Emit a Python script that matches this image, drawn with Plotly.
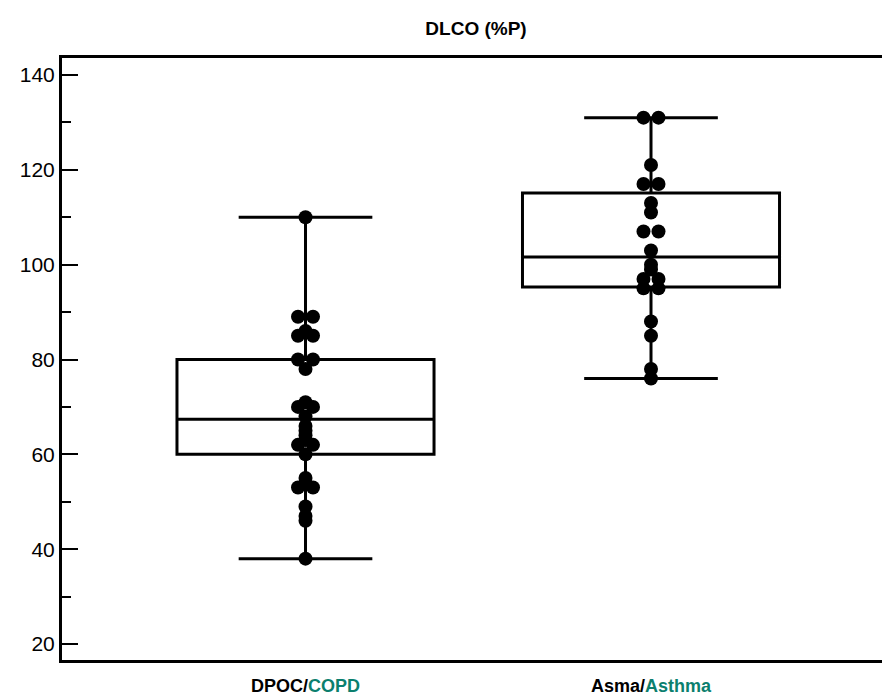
import plotly.graph_objects as go
from collections import Counter

# ---- data ----
groups = ["DPOC/COPD", "Asma/Asthma"]
group_es = ["DPOC", "Asma"]
group_en = ["COPD", "Asthma"]

copd_values = [110, 89, 89, 86, 85, 85, 80, 80, 78, 71, 70, 70, 68, 66, 65, 64,
               63, 62, 62, 60, 55, 53, 53, 49, 47, 46, 38]
asthma_values = [131, 131, 121, 117, 117, 113, 111, 107, 107, 103, 100, 99,
                 97, 97, 95, 95, 88, 85, 78, 76]

# box statistics (as drawn in the reference)
q1_vals = [60, 95.3]
median_vals = [67.4, 101.6]
q3_vals = [80, 115.1]
lower_vals = [38, 76]
upper_vals = [110, 131]

y_ticks = [20, 40, 60, 80, 100, 120, 140]

# ---- layout constants ----
W, H = 882, 695
ML, MR, MT, MB = 62, 0, 58, 35
X_RANGE = [-0.7048, 1.6686]
Y_RANGE = [16.63, 143.58]
TEAL = "#0b7f6e"
FONT = "Liberation Sans, Arial, sans-serif"

px_per_x = (W - ML - MR) / (X_RANGE[1] - X_RANGE[0])
dot_gap_px = 15
dx = dot_gap_px / px_per_x


def swarm_x(center, values):
    """Place tied values side by side, symmetric about the group centre."""
    counts = Counter(values)
    seen = Counter()
    xs = []
    for v in values:
        n = counts[v]
        i = seen[v]
        seen[v] += 1
        xs.append(center + (i - (n - 1) / 2) * dx)
    return xs


fig = go.Figure()

for i in range(len(groups)):
    fig.add_trace(go.Box(
        x=[i], q1=[q1_vals[i]], median=[median_vals[i]], q3=[q3_vals[i]],
        lowerfence=[lower_vals[i]], upperfence=[upper_vals[i]],
        width=0.744, whiskerwidth=0.52,
        line=dict(color="black", width=3),
        fillcolor="rgba(0,0,0,0)",
        boxpoints=False, showlegend=False, hoverinfo="skip",
    ))

for i, vals in enumerate([copd_values, asthma_values]):
    fig.add_trace(go.Scatter(
        x=swarm_x(i, vals), y=vals, mode="markers",
        marker=dict(color="black", size=14, line=dict(width=0)),
        showlegend=False,
    ))

ticktext = [f"<b>{es}/<span style='color:{TEAL}'>{en}</span></b>"
            for es, en in zip(group_es, group_en)]

fig.update_layout(
    width=W, height=H,
    margin=dict(l=ML, r=MR, t=MT, b=MB, autoexpand=False),
    paper_bgcolor="white", plot_bgcolor="white",
    font=dict(family=FONT, color="black"),
    title=dict(text="<b>DLCO (%P)</b>", font=dict(size=19, family=FONT, color="black"),
               x=476 / W, xref="container", xanchor="center",
               y=1 - 28 / H, yref="container", yanchor="middle"),
    xaxis=dict(range=X_RANGE, tickvals=[0, 1], ticktext=ticktext, automargin=False,
               showgrid=False, zeroline=False, showline=True, linecolor="black",
               linewidth=3, mirror=True, ticks="", ticklabelstandoff=7,
               tickfont=dict(size=18, family=FONT, color="black")),
    yaxis=dict(range=Y_RANGE, tickvals=y_ticks, showgrid=False, zeroline=False,
               automargin=False,
               showline=True, linecolor="black", linewidth=3,
               ticks="inside", ticklen=16, tickwidth=2, tickcolor="black",
               minor=dict(dtick=10, tick0=0, ticks="inside", ticklen=9, tickwidth=2,
                          tickcolor="black", showgrid=False),
               tickfont=dict(size=21, family=FONT, color="black")),
)

fig.write_html("out.html", config={"displayModeBar": False},
               post_script="document.body.style.margin='0';")
